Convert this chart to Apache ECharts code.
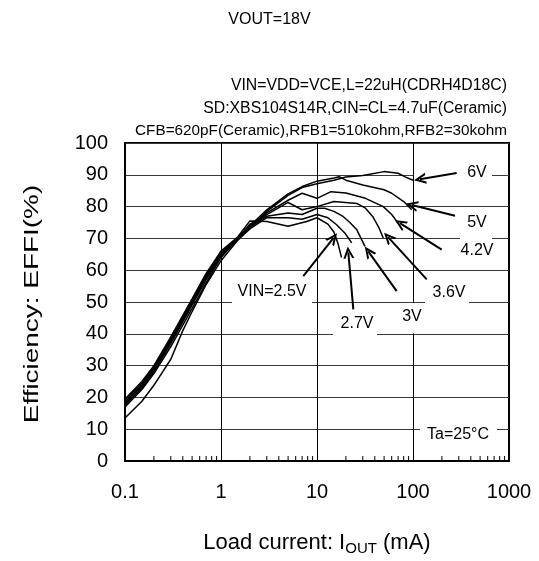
<!DOCTYPE html>
<html>
<head>
<meta charset="utf-8">
<script src="https://cdn.jsdelivr.net/npm/echarts@6/dist/echarts.min.js"></script>
<style>
html,body{margin:0;padding:0;background:#fff;}
#chart{width:539px;height:561px;}
</style>
</head>
<body>
<div id="chart"></div>
<script>
// ---- data ----
const seriesNames = ['6V', '5V', '4.2V', '3.6V', '3V', '2.7V', '2.5V'];

const load6V = [0.1,0.15,0.2,0.3,0.4,0.5,0.7,1,1.5,2,3,5,7,10,15,20,30,50,70,85,100];
const eff6V  = [13.5,18.8,23.8,32,41,47,55.5,63,69.5,73.5,78.5,83.5,86,87.2,88.3,89.3,89.8,91,90.5,89.2,88.3];

const load5V = [0.1,0.15,0.2,0.3,0.5,0.7,1,1.5,2,3,5,7,10,15,17,20,30,50,60,80,97];
const eff5V  = [17,22.5,27.5,36,48,56,64,70,74,79,84,86.3,88,89,89.4,88.3,86.8,85.3,84.2,81.6,79];

const load4_2V = [0.1,0.15,0.2,0.3,0.5,0.7,1,1.5,2,2.5,3,5,7,10,14,20,32,49,60,70];
const eff4_2V  = [17.5,23,28,37,49,57,64.5,70,74.5,76,78,82,84.2,82.6,84.7,84.3,82.6,80,77.5,74.8];

const load3_6V = [0.1,0.15,0.2,0.3,0.5,0.7,1,1.5,2,3,5,7,10,15,26,32,38,44,49];
const eff3_6V  = [18,23.5,28.5,37.5,49.5,57.5,65,70,74,77.5,81.3,79,80,81.6,81,79.5,76.9,73.5,70.1];

const load3V = [0.1,0.15,0.2,0.3,0.5,0.7,1,1.5,2,3,5,7,10,12,15,18.7,22,26,31.6];
const eff3V  = [18.5,24,29,38,50,58,65.5,70,73.5,77,78,77.5,79.5,79.5,78.5,76.9,75,72.7,67.5];

const load2_7V = [0.1,0.15,0.2,0.3,0.5,0.7,1,1.5,2,3,5,7,10,13,16,19.5,23];
const eff2_7V  = [19,24.5,29.5,38.5,50.5,58.5,65.5,69.5,73,76.5,76.5,76,77.5,76.5,74.3,71.7,68.6];

const load2_5V = [0.1,0.15,0.2,0.3,0.5,0.7,1,1.5,2,3,5,7.8,10,13,15,16.5,18];
const eff2_5V  = [19.5,25,30,39,51,59,66,70.5,75.5,75.3,73.8,75.3,76.5,74.5,72,68.5,64];

const xTickLabels = ['0.1', '1', '10', '100', '1000'];
const minorTickValues = [0.2,0.3,0.4,0.5,0.6,0.7,0.8,0.9, 2,3,4,5,6,7,8,9, 20,30,40,50,60,70,80,90, 200,300,400,500,600,700,800,900];

// arrows: [tail, tip] in data coordinates (mA, %)
const arrowTails = [[285,90.6],[274,77.1],[199,66.5],[139,57.1],[67.6,53.4],[23.9,47.7],[7.2,58.1]];
const arrowTips  = [[118,88.6],[97,80.5],[73,74.8],[55,70.4],[34.2,65.9],[21.2,65.6],[14.8,70.1]];

const titleText = 'VOUT=18V';
const yTitle = 'Efficiency: EFFI(%)';
const conditionLines = [
  'VIN=VDD=VCE,L=22uH(CDRH4D18C)',
  'SD:XBS104S14R,CIN=CL=4.7uF(Ceramic)',
  'CFB=620pF(Ceramic),RFB1=510kohm,RFB2=30kohm'
];
const curveLabels = ['6V', '5V', '4.2V', '3.6V', '3V', '2.7V', 'VIN=2.5V'];
const tempLabel = 'Ta=25°C';

// ---- build ----
const FONT = '"Liberation Sans", Arial, Helvetica, sans-serif';
const loads = [load6V, load5V, load4_2V, load3_6V, load3V, load2_7V, load2_5V];
const effs  = [eff6V, eff5V, eff4_2V, eff3_6V, eff3V, eff2_7V, eff2_5V];

function zip(a, b) { return a.map((v, i) => [v, b[i]]); }

const chevron = 'path://M5,0 L10,11 L8,11 L5,4.2 L2,11 L0,11 Z';

const series = seriesNames.map((name, i) => ({
  name: name,
  type: 'line',
  data: zip(loads[i], effs[i]),
  showSymbol: false,
  symbol: 'none',
  silent: true,
  z: 3,
  lineStyle: { color: '#000', width: 1.5 }
}));

series.push({
  name: 'arrows',
  type: 'line',
  data: [],
  silent: true,
  z: 4,
  markLine: {
    silent: true,
    symbol: ['none', chevron],
    symbolSize: [11, 12],
    label: { show: false },
    lineStyle: { color: '#000', width: 2, type: 'solid' },
    emphasis: { disabled: true },
    animation: false,
    data: arrowTails.map((t, i) => [{ coord: t }, { coord: arrowTips[i] }])
  }
});

series.push({
  name: 'minorTicks',
  type: 'custom',
  silent: true,
  z: 3,
  data: minorTickValues.map(v => [v, 0]),
  renderItem: function (params, api) {
    const p = api.coord([api.value(0), api.value(1)]);
    return {
      type: 'line',
      shape: { x1: p[0], y1: p[1], x2: p[0], y2: p[1] - 5 },
      style: { stroke: '#000', lineWidth: 1 }
    };
  }
});

// annotation boxes (white backgrounds) and texts, page pixel layout
const boxRects = [
  [414, 164, 78, 18],   // 6V
  [460, 211, 32, 22],   // 5V
  [460, 234, 32, 27],   // 4.2V
  [425, 281, 44, 24],   // 3.6V
  [395, 303, 36, 30.5], // 3V
  [333, 312, 44, 24.5], // 2.7V
  [232, 282, 80, 24],   // VIN=2.5V
  [420, 424, 77, 16]    // Ta
];
const textPos = [
  [477, 173], [477, 223], [477, 251], [449, 293], [412, 317], [357, 324], [272, 292], [458, 435]
];

const graphics = [];
boxRects.forEach(r => graphics.push({
  type: 'rect', z: 1, silent: true,
  shape: { x: r[0], y: r[1], width: r[2], height: r[3] },
  style: { fill: '#fff' }
}));
curveLabels.concat([tempLabel]).forEach((t, i) => graphics.push({
  type: 'text', z: 2, silent: true,
  x: textPos[i][0], y: textPos[i][1],
  style: { text: t, fill: '#000', font: '16px ' + FONT, textAlign: 'center', textVerticalAlign: 'middle' }
}));
const condFont = [15.8, 15.8, 15.3];
conditionLines.forEach((t, i) => graphics.push({
  type: 'text', z: 2, silent: true,
  x: 507, y: 86 + i * 22.5,
  style: { text: t, fill: '#000', font: condFont[i] + 'px ' + FONT, textAlign: 'right', textVerticalAlign: 'middle' }
}));
graphics.push({
  type: 'text', z: 2, silent: true,
  x: 269.5, y: 20,
  style: { text: titleText, fill: '#000', font: '16px ' + FONT, textAlign: 'center', textVerticalAlign: 'middle' }
});
graphics.push({
  type: 'text', z: 2, silent: true,
  x: 32, y: 304, rotation: Math.PI / 2, scaleX: 1.33, scaleY: 1,
  style: { text: yTitle, fill: '#000', font: '21px ' + FONT, textAlign: 'center', textVerticalAlign: 'middle' }
});

const chart = echarts.init(document.getElementById('chart'), null, { renderer: 'canvas' });
chart.setOption({
  animation: false,
  backgroundColor: '#fff',
  textStyle: { fontFamily: FONT },
  grid: {
    left: 125, right: 30, top: 143, bottom: 98,
    show: true, borderColor: '#000', borderWidth: 2, backgroundColor: 'transparent'
  },
  xAxis: {
    type: 'log',
    logBase: 10,
    min: 0.1,
    max: 1000,
    axisLine: { show: true, lineStyle: { color: '#000', width: 2 } },
    axisTick: { show: false },
    minorTick: { show: false },
    axisLabel: {
      color: '#000', fontSize: 20, fontFamily: FONT, margin: 21,
      formatter: function (v) {
        const idx = Math.round(Math.log10(v)) + 1;
        return xTickLabels[idx] !== undefined ? xTickLabels[idx] : '';
      }
    },
    splitLine: { show: true, lineStyle: { color: '#000', width: 1 } },
    name: '{a|Load current: I}{b|OUT}{a| (mA)}',
    nameLocation: 'middle',
    nameGap: 69,
    nameTextStyle: {
      rich: {
        a: { fontSize: 22, fontFamily: FONT, color: '#000', lineHeight: 26 },
        b: { fontSize: 15, fontFamily: FONT, color: '#000', lineHeight: 26, verticalAlign: 'bottom' }
      }
    }
  },
  yAxis: {
    type: 'value',
    min: 0,
    max: 100,
    interval: 10,
    axisLine: { show: true, lineStyle: { color: '#000', width: 2 } },
    axisTick: { show: false },
    axisLabel: { color: '#000', fontSize: 20, fontFamily: FONT, margin: 17 },
    splitLine: { show: true, lineStyle: { color: '#3a3a3a', width: 1 } }
  },
  graphic: graphics,
  series: series
});
</script>
</body>
</html>
